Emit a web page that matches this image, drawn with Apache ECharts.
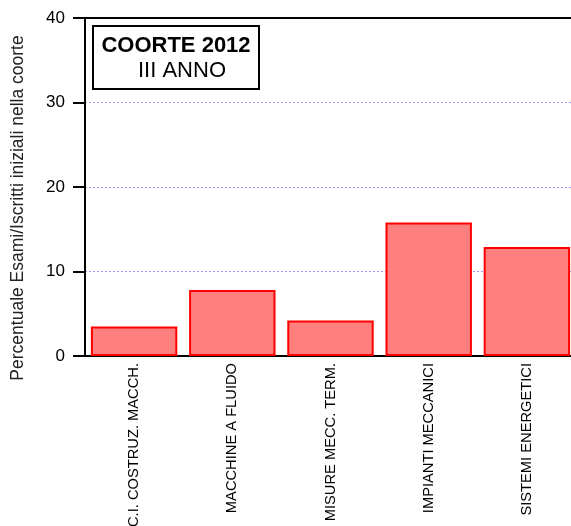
<!DOCTYPE html>
<html>
<head>
<meta charset="utf-8">
<script src="https://cdn.jsdelivr.net/npm/echarts@6/dist/echarts.min.js"></script>
<style>
html,body{margin:0;padding:0;background:#fff;}
#c{width:571px;height:526px;}
</style>
</head>
<body>
<div id="c"></div>
<script>
const categories = ["C.I. COSTRUZ. MACCH.", "MACCHINE A FLUIDO", "MISURE MECC. TERM.", "IMPIANTI MECCANICI", "SISTEMI ENERGETICI"];
const values = [3.5, 7.8, 4.2, 15.8, 12.9];
const yTicks = [0, 10, 20, 30, 40];
const yName = "Percentuale Esami/Iscritti iniziali nella coorte";
const boxTitle = "COORTE 2012";
const boxSub = "III ANNO";

const FONT = "'Liberation Sans', Arial, sans-serif";
const chart = echarts.init(document.getElementById('c'), null, {renderer: 'canvas'});
chart.setOption({
  animation: false,
  backgroundColor: '#fff',
  grid: {left: 85, right: -5, top: 18, bottom: 170, containLabel: false, outerBoundsMode: 'none',
         show: true, borderColor: '#000', borderWidth: 2, backgroundColor: 'transparent'},
  xAxis: {
    type: 'category',
    data: categories,
    axisLine: {lineStyle: {color: '#000', width: 2}},
    axisTick: {length: 14, lineStyle: {color: '#000', width: 2}},
    axisLabel: {rotate: 90, interval: 0, fontSize: 14.7, color: '#000', fontFamily: FONT, margin: 7}
  },
  yAxis: {
    type: 'value',
    min: yTicks[0],
    max: yTicks[yTicks.length - 1],
    interval: 10,
    axisLine: {show: true, lineStyle: {color: '#000', width: 2}},
    axisTick: {show: true, length: 12, lineStyle: {color: '#000', width: 2}},
    axisLabel: {fontSize: 17, color: '#000', fontFamily: FONT, margin: 20},
    splitLine: {show: true, showMinLine: false, showMaxLine: false, lineStyle: {color: '#9c9cff', type: [2, 2], width: 1}}
  },
  series: [{
    type: 'bar',
    data: values,
    barCategoryGap: '12%',
    itemStyle: {color: '#ff7f7f', borderColor: '#ff0000', borderWidth: 2}
  }],
  graphic: [
    {type: 'text', x: 18, y: 208, rotation: Math.PI / 2,
     style: {text: yName, fontSize: 17.5, fontFamily: FONT, fill: '#222', align: 'center', verticalAlign: 'middle'}},
    {type: 'rect', shape: {x: 93, y: 26, width: 166, height: 63}, style: {fill: '#fff', stroke: '#000', lineWidth: 2}, z: 10},
    {type: 'text', x: 176, y: 46, z: 11,
     style: {text: boxTitle, fontSize: 22, fontWeight: 'bold', fontFamily: FONT, fill: '#000', align: 'center', verticalAlign: 'middle'}},
    {type: 'text', x: 182, y: 71, z: 11,
     style: {text: boxSub, fontSize: 22, fontFamily: FONT, fill: '#000', align: 'center', verticalAlign: 'middle'}}
  ]
});
</script>
</body>
</html>
